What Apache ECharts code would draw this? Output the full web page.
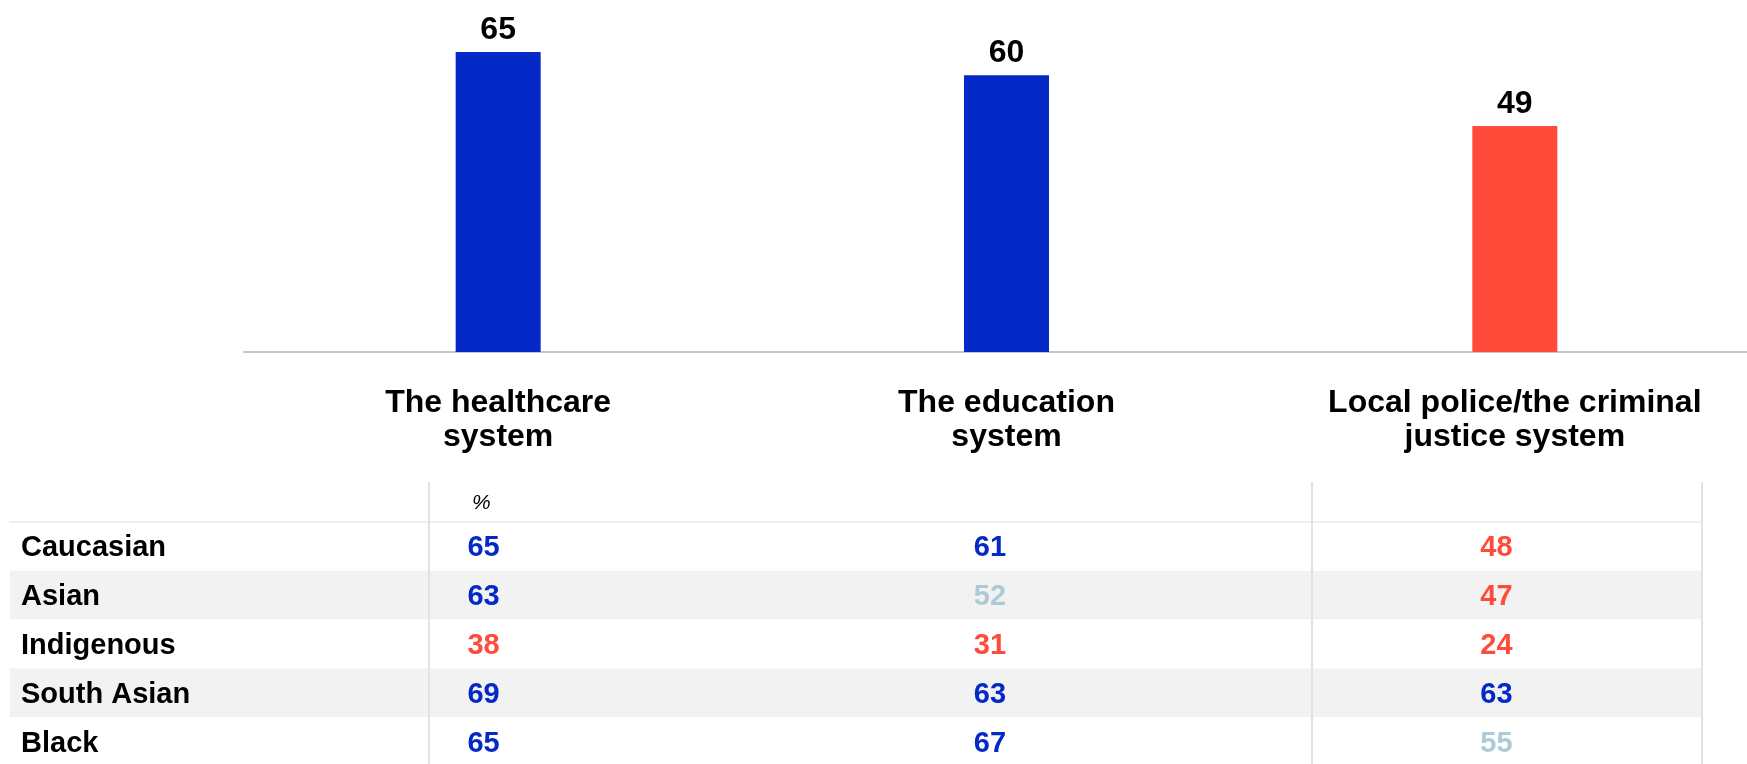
<!DOCTYPE html>
<html>
<head>
<meta charset="utf-8">
<script src="https://cdn.jsdelivr.net/npm/echarts@6/dist/echarts.min.js"></script>
<style>
  html, body { margin: 0; padding: 0; background: #ffffff; }
  #chart { width: 1747px; height: 764px; }
</style>
</head>
<body>
<div id="chart"></div>
<script>
// Overall confidence by institution (%)
const categories = ['The healthcare\nsystem', 'The education\nsystem', 'Local police/the criminal\njustice system'];
const overall = [65, 60, 49];

// Breakdown by group (%), one array per institution
const groups = ['Caucasian', 'Asian', 'Indigenous', 'South Asian', 'Black'];
const healthcare = [65, 63, 38, 69, 65];
const education = [61, 52, 31, 63, 67];
const police = [48, 47, 24, 63, 55];
const tableColumns = [healthcare, education, police];
const unitLabel = '%';

const BLUE = '#0529c7';
const RED = '#ff4b3a';
const GREY = '#aecad6';
const FONT = "'Liberation Sans', Arial, Helvetica, sans-serif";

// Colour scale used for both the bars and the table figures
function colorFor(v) {
  if (v >= 56) return BLUE;
  if (v >= 50) return GREY;
  return RED;
}

const tableData = [];
tableColumns.forEach(function (col, ci) {
  col.forEach(function (v, ri) {
    tableData.push({
      value: [ci, groups[ri], v],
      label: { color: colorFor(v) }
    });
  });
});

const chart = echarts.init(document.getElementById('chart'), null, { renderer: 'canvas' });

chart.setOption({
  backgroundColor: '#ffffff',
  animation: false,
  textStyle: { fontFamily: FONT },
  grid: [
    { left: 244, width: 1525, top: 29, height: 323, containLabel: false, outerBoundsMode: 'none' },
    { left: 10, right: 45, top: 522, bottom: -2, containLabel: false, outerBoundsMode: 'none' }
  ],
  xAxis: [
    {
      gridIndex: 0,
      type: 'category',
      data: categories,
      axisLine: { show: true, lineStyle: { color: '#c2c7c7', width: 2 } },
      axisTick: { show: false },
      axisLabel: {
        margin: 34,
        fontFamily: FONT,
        fontSize: 32,
        fontWeight: 'bold',
        color: '#000000',
        lineHeight: 34,
        interval: 0
      },
      splitLine: { show: false }
    },
    {
      gridIndex: 1,
      type: 'value',
      position: 'top',
      min: -0.935,
      max: 2.406,
      axisLine: { show: true, onZero: false, lineStyle: { color: '#efefef', width: 2 } },
      axisTick: { show: false },
      axisLabel: { show: false },
      splitLine: { show: false }
    }
  ],
  yAxis: [
    {
      gridIndex: 0,
      type: 'value',
      min: 0,
      max: 70,
      show: false
    },
    {
      gridIndex: 1,
      type: 'category',
      inverse: true,
      data: groups,
      axisLine: { show: false },
      axisTick: { show: false },
      axisLabel: {
        inside: true,
        margin: 11,
        fontFamily: FONT,
        fontSize: 29,
        fontWeight: 'bold',
        color: '#000000',
        verticalAlign: 'top',
        lineHeight: 4
      },
      splitLine: { show: false },
      splitArea: { show: true, areaStyle: { color: ['#ffffff', '#f2f2f2'] } }
    }
  ],
  series: [
    {
      type: 'bar',
      xAxisIndex: 0,
      yAxisIndex: 0,
      barWidth: 85,
      data: overall.map(function (v) {
        return { value: v, itemStyle: { color: colorFor(v) } };
      }),
      label: {
        show: true,
        position: 'top',
        distance: 6,
        fontFamily: FONT,
        fontSize: 32,
        fontWeight: 'bold',
        color: '#000000'
      }
    },
    {
      type: 'scatter',
      xAxisIndex: 1,
      yAxisIndex: 1,
      symbolSize: 1,
      itemStyle: { color: 'rgba(0,0,0,0)', opacity: 1 },
      data: tableData,
      label: {
        show: true,
        position: 'inside',
        offset: [0, 2],
        fontFamily: FONT,
        fontSize: 29,
        fontWeight: 'bold',
        textBorderWidth: 0,
        formatter: function (p) { return p.value[2]; }
      },
      emphasis: { disabled: true },
      z: 5
    }
  ],
  graphic: [
    {
      type: 'text',
      left: 472,
      top: 493,
      style: {
        text: unitLabel,
        fontFamily: FONT,
        fontSize: 21,
        fontStyle: 'italic',
        fill: '#000000'
      }
    },
    { type: 'line', shape: { x1: 429, y1: 482, x2: 429, y2: 764 }, style: { stroke: '#e2e2e2', lineWidth: 2 }, z: 10 },
    { type: 'line', shape: { x1: 1312, y1: 482, x2: 1312, y2: 764 }, style: { stroke: '#e2e2e2', lineWidth: 2 }, z: 10 },
    { type: 'line', shape: { x1: 1702, y1: 482, x2: 1702, y2: 764 }, style: { stroke: '#e2e2e2', lineWidth: 2 }, z: 10 }
  ]
});
</script>
</body>
</html>
